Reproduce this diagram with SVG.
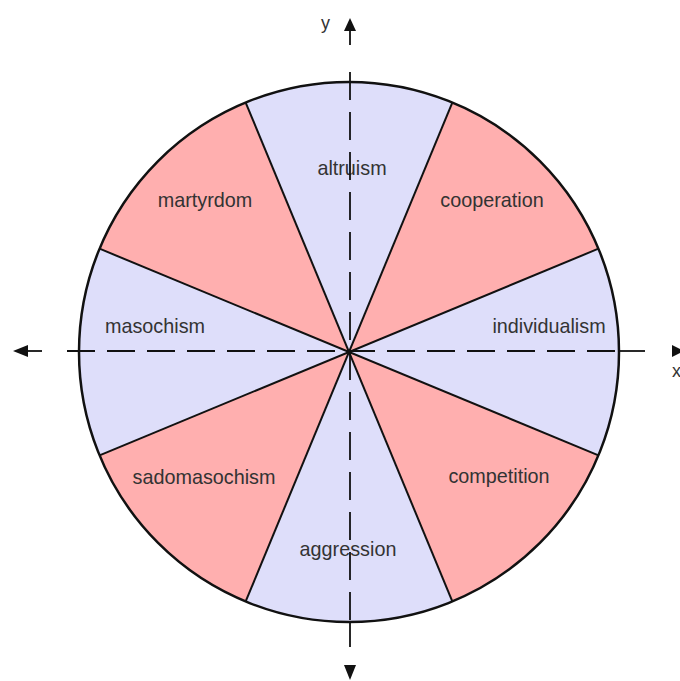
<svg xmlns="http://www.w3.org/2000/svg" width="680" height="681" viewBox="0 0 680 681">
<style>
.pink{fill:#FFAFAF;stroke:none}
.lav{fill:#DEDEFA;stroke:none}
.lbl{font-family:"Liberation Sans",Arial,sans-serif;font-size:19.8px;fill:#333;text-anchor:middle}
.bd{stroke:#111;stroke-width:2;fill:none}
.axis{stroke:#111;stroke-width:1.8;fill:none}
.dash{stroke-dasharray:28 12}
</style>
<rect width="680" height="681" fill="#fff"/>
<g id="altruism"><path class="lav" d="M349,352 L452.32,102.55 A270,270 0 0 0 245.68,102.55 Z"/><text class="lbl" x="352" y="175">altruism</text></g>
<g id="martyrdom"><path class="pink" d="M349,352 L245.68,102.55 A270,270 0 0 0 99.55,248.68 Z"/><text class="lbl" x="205" y="207">martyrdom</text></g>
<g id="masochism"><path class="lav" d="M349,352 L99.55,248.68 A270,270 0 0 0 99.55,455.32 Z"/><text class="lbl" x="155" y="333">masochism</text></g>
<g id="sadomasochism"><path class="pink" d="M349,352 L99.55,455.32 A270,270 0 0 0 245.68,601.45 Z"/><text class="lbl" x="204" y="484">sadomasochism</text></g>
<g id="aggression"><path class="lav" d="M349,352 L245.68,601.45 A270,270 0 0 0 452.32,601.45 Z"/><text class="lbl" x="348" y="556">aggression</text></g>
<g id="competition"><path class="pink" d="M349,352 L452.32,601.45 A270,270 0 0 0 598.45,455.32 Z"/><text class="lbl" x="499" y="483">competition</text></g>
<g id="individualism"><path class="lav" d="M349,352 L598.45,455.32 A270,270 0 0 0 598.45,248.68 Z"/><text class="lbl" x="549" y="333">individualism</text></g>
<g id="cooperation"><path class="pink" d="M349,352 L598.45,248.68 A270,270 0 0 0 452.32,102.55 Z"/><text class="lbl" x="492" y="207">cooperation</text></g>
<g id="connectors">
<line class="bd" x1="452.32" y1="102.55" x2="245.68" y2="601.45"/>
<line class="bd" x1="245.68" y1="102.55" x2="452.32" y2="601.45"/>
<line class="bd" x1="99.55" y1="248.68" x2="598.45" y2="455.32"/>
<line class="bd" x1="99.55" y1="455.32" x2="598.45" y2="248.68"/>
<circle cx="349" cy="352" r="270" fill="none" stroke="#111" stroke-width="2.5"/>
<line class="axis dash" x1="67" y1="351" x2="619" y2="351"/>
<line class="axis" x1="619" y1="351" x2="645" y2="351"/>
<line class="axis" x1="27" y1="351" x2="42" y2="351"/>
<polygon points="13,351 28,345 28,357" fill="#111"/>
<polygon points="684,351 672,345 672,357" fill="#111"/>
<line class="axis dash" x1="350" y1="72" x2="350" y2="621"/>
<line class="axis" x1="350" y1="621" x2="350" y2="647"/>
<line class="axis" x1="350" y1="30" x2="350" y2="45"/>
<polygon points="350,18 344,31 356,31" fill="#111"/>
<polygon points="350,680 344,665 356,665" fill="#111"/>
</g>
<text x="321" y="29" style="font-family:'Liberation Sans',Arial,sans-serif;font-size:18px;fill:#333">y</text>
<text x="672" y="377" style="font-family:'Liberation Sans',Arial,sans-serif;font-size:18px;fill:#333">x</text>
</svg>
